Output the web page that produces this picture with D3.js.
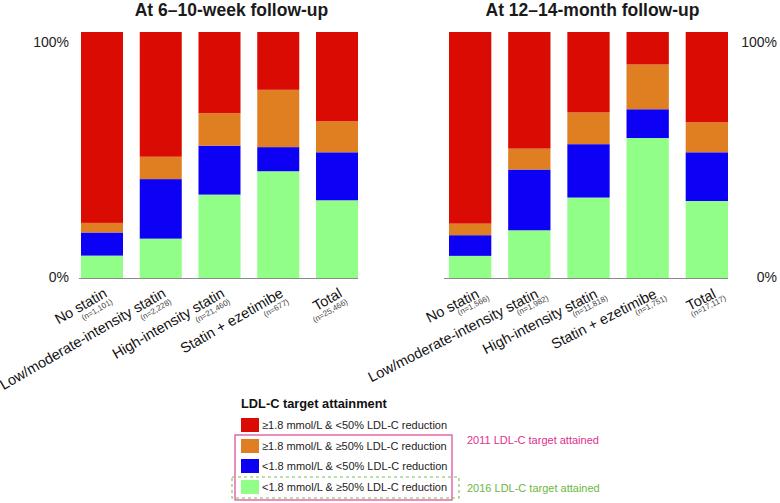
<!DOCTYPE html>
<html><head><meta charset="utf-8">
<script src="https://cdn.jsdelivr.net/npm/d3@7/dist/d3.min.js"></script>
<style>body{margin:0;background:#fff;}svg{display:block;font-family:"Liberation Sans",Arial,Helvetica,sans-serif;}</style>
</head><body>
<svg id="chart" width="780" height="503"></svg>
<script>
const categories = ["No statin", "Low/moderate-intensity statin", "High-intensity statin", "Statin + ezetimibe", "Total"];
const nWeek = ["(n=1,101)", "(n=2,228)", "(n=21,460)", "(n=677)", "(n=25,466)"];
const nMonth = ["(n=1,566)", "(n=1,982)", "(n=11,818)", "(n=1,751)", "(n=17,117)"];
const seriesKeys = ["green", "blue", "orange", "red"];
// 6–10-week follow-up (%)
const weekGreen = [9.1, 16.0, 33.9, 43.4, 31.6];
const weekBlue = [9.4, 24.2, 19.9, 9.8, 19.5];
const weekOrange = [3.9, 9.1, 13.2, 23.3, 12.6];
const weekRed = [77.6, 50.7, 33.0, 23.5, 36.3];
// 12–14-month follow-up (%)
const monthGreen = [9.0, 19.4, 32.7, 56.9, 31.3];
const monthBlue = [8.4, 24.7, 21.7, 11.7, 19.8];
const monthOrange = [4.7, 8.5, 12.9, 18.2, 12.2];
const monthRed = [77.9, 47.4, 32.7, 13.2, 36.7];
const yTicks = ["0%", "100%"];
const legendLabels = ["≥1.8 mmol/L & <50% LDL-C reduction", "≥1.8 mmol/L & ≥50% LDL-C reduction", "<1.8 mmol/L & <50% LDL-C reduction", "<1.8 mmol/L & ≥50% LDL-C reduction"];
const legendKeys = ["red", "orange", "blue", "green"];

const colors = {red: "#d90b02", orange: "#e07f22", blue: "#0c00f5", green: "#91fe88"};
const svg = d3.select("#chart");

function build(g, r, b, o) {
  return categories.map((c, i) => ({cat: c, green: g[i], blue: b[i], orange: o[i], red: r[i]}));
}

function panel(opts) {
  const data = build(opts.g, opts.r, opts.b, opts.o);
  const x = d3.scaleBand().domain(categories).range(opts.xr).paddingInner(0.285).paddingOuter(0);
  const y = d3.scaleLinear().domain([0, 100]).range([278, 32]);
  const stack = d3.stack().keys(seriesKeys)(data);
  const g = svg.append("g");
  g.selectAll("g.s").data(stack).join("g").attr("fill", d => colors[d.key])
    .selectAll("rect").data(d => d).join("rect")
    .attr("x", d => x(d.data.cat)).attr("width", x.bandwidth())
    .attr("y", d => y(d[1])).attr("height", d => y(d[0]) - y(d[1]));
  g.append("line").attr("x1", opts.xr[0] - opts.lineExt).attr("x2", opts.xr[1])
    .attr("y1", y(0) + 0.5).attr("y2", y(0) + 0.5).attr("stroke", "#8a8a8a").attr("stroke-width", 1.2);
  g.append("text").attr("x", (opts.xr[0] + opts.xr[1]) / 2 + opts.titleDx).attr("y", 16)
    .attr("text-anchor", "middle").attr("font-weight", "bold").attr("font-size", 17.5).attr("fill", "#1a1a1a").text(opts.title);
  g.append("text").attr("x", opts.tickX).attr("y", y(100) + 15).attr("text-anchor", opts.tickAnchor)
    .attr("font-size", 14).attr("fill", "#222").text(yTicks[1]);
  g.append("text").attr("x", opts.tickX).attr("y", y(0) + 4).attr("text-anchor", opts.tickAnchor)
    .attr("font-size", 14).attr("fill", "#222").text(yTicks[0]);
  const lab = g.selectAll("g.lab").data(categories).join("g")
    .attr("transform", d => `translate(${x(d) + x.bandwidth() / 2 + opts.labDx},${opts.labY}) rotate(${opts.angle})`);
  lab.append("text").attr("text-anchor", "end").attr("font-size", 14.5).attr("fill", "#111").text(d => d);
  lab.append("text").attr("text-anchor", "end").attr("x", opts.nDx).attr("y", opts.nDy)
    .attr("font-size", 8).attr("fill", "#444").text((d, i) => opts.n[i]);
}

panel({g: weekGreen, b: weekBlue, o: weekOrange, r: weekRed, xr: [81, 358], lineExt: 2,
  title: "At 6–10-week follow-up", titleDx: 12, tickX: 69, tickAnchor: "end",
  labDx: 6, labY: 296, angle: -30, nDx: 1, nDy: 9, n: nWeek});
panel({g: monthGreen, b: monthBlue, o: monthOrange, r: monthRed, xr: [449, 728], lineExt: 5,
  title: "At 12–14-month follow-up", titleDx: 4, tickX: 777, tickAnchor: "end",
  labDx: 10, labY: 297, angle: -27, nDx: 7.5, nDy: 7, n: nMonth});

// Legend
const lg = svg.append("g");
lg.append("text").attr("x", 241).attr("y", 408).attr("font-weight", "bold").attr("font-size", 12.8).attr("fill", "#111").text("LDL-C target attainment");
const rowY = [418, 439, 459, 480];
legendKeys.forEach((k, i) => {
  lg.append("rect").attr("x", 241).attr("y", rowY[i]).attr("width", 18).attr("height", 14).attr("fill", colors[k]);
  lg.append("text").attr("x", 262).attr("y", rowY[i] + 11).attr("font-size", 11).attr("fill", "#222").text(legendLabels[i]);
});
lg.append("rect").attr("x", 235).attr("y", 435).attr("width", 217).attr("height", 65)
  .attr("fill", "none").attr("stroke", "#e0529c").attr("stroke-width", 1.3);
lg.append("rect").attr("x", 232).attr("y", 477).attr("width", 227).attr("height", 21)
  .attr("fill", "none").attr("stroke", "#78bf55").attr("stroke-width", 1.1).attr("stroke-dasharray", "3,3");
lg.append("text").attr("x", 467).attr("y", 444).attr("font-size", 11).attr("fill", "#de2f8e").text("2011 LDL-C target attained");
lg.append("text").attr("x", 467).attr("y", 492).attr("font-size", 11).attr("fill", "#6db63f").text("2016 LDL-C target attained");
</script>
</body></html>
